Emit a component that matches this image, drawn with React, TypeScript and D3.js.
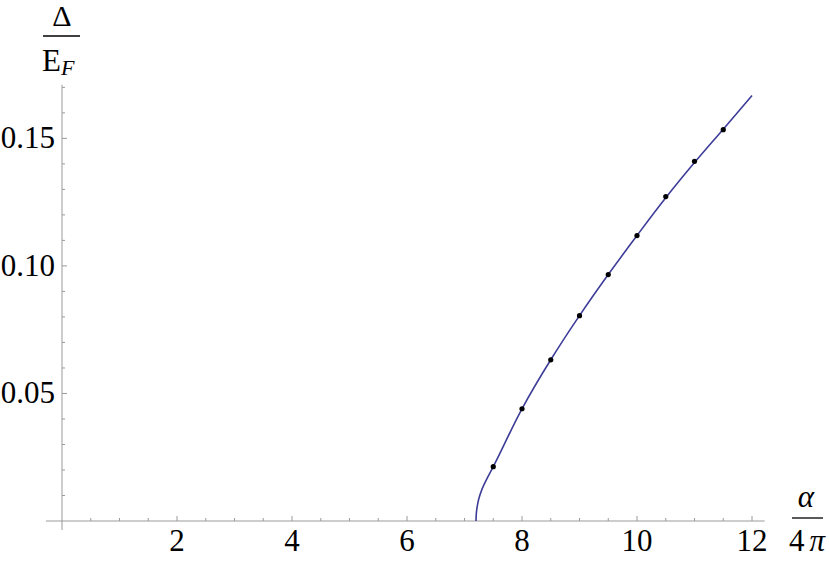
import React from "react";
import * as d3 from "d3";

// Fitted curve samples (alpha/4pi, Delta/E_F)
const curveX = [7.2, 7.205, 7.22, 7.25, 7.3, 7.4, 7.5, 8, 8.5, 9, 9.5, 10, 10.5, 11, 11.5, 12];
const curveY = [0, 0.0028, 0.0055, 0.0088, 0.0122, 0.0170, 0.0213, 0.044, 0.0632, 0.0805, 0.0966, 0.1119, 0.1267, 0.1405, 0.1536, 0.1668];

// Numerical data points
const pointX = [7.5, 8, 8.5, 9, 9.5, 10, 10.5, 11, 11.5];
const pointY = [0.0213, 0.044, 0.0632, 0.0805, 0.0966, 0.1119, 0.1272, 0.141, 0.1534];

// Ticks
const xMajorTicks = [2, 4, 6, 8, 10, 12];
const xMinorTicks = [0.5, 1, 1.5, 2.5, 3, 3.5, 4.5, 5, 5.5, 6.5, 7, 7.5, 8.5, 9, 9.5, 10.5, 11, 11.5];
const yMajorTicks = [0.05, 0.1, 0.15];
const yMinorTicks = [0.01, 0.02, 0.03, 0.04, 0.06, 0.07, 0.08, 0.09, 0.11, 0.12, 0.13, 0.14, 0.16, 0.17];
const xTickLabels = ["2", "4", "6", "8", "10", "12"];
const yTickLabels = ["0.05", "0.10", "0.15"];
const xExtent = [-0.28, 12.22];
const yExtent = [-0.0035, 0.171];

const W = 830;
const H = 561;
const FONT = "'Liberation Serif', 'DejaVu Serif', serif";
const AXIS = "#9a9a9a";
const CURVE = "#3d3d99";

export default function App() {
  const x = d3.scaleLinear().domain([0, 12]).range([62, 752]);
  const y = d3.scaleLinear().domain([0, 0.171]).range([521, 84.8]);

  const line = d3
    .line<number>()
    .x((_, i) => x(curveX[i]))
    .y((d) => y(d))
    .curve(d3.curveMonotoneY);

  const x0 = x(0);
  const y0 = y(0);
  const txt = { fontFamily: FONT };
  const FS = 31;

  return (
    <svg
      width={W}
      height={H}
      style={{ position: "absolute", left: 0, top: 0, background: "#fff", fontFamily: FONT }}
    >
      {/* axes */}
      <line x1={x(xExtent[0])} x2={x(xExtent[1])} y1={y0} y2={y0} stroke={AXIS} strokeWidth={1} />
      <line x1={x0} x2={x0} y1={y(yExtent[0])} y2={y(yExtent[1])} stroke={AXIS} strokeWidth={1} />

      {/* x ticks */}
      {xMajorTicks.map((t) => (
        <line key={"xM" + t} x1={x(t)} x2={x(t)} y1={y0} y2={y0 - 5} stroke={AXIS} strokeWidth={1} />
      ))}
      {xMinorTicks.map((t) => (
        <line key={"xm" + t} x1={x(t)} x2={x(t)} y1={y0} y2={y0 - 3} stroke={AXIS} strokeWidth={1} />
      ))}
      {/* y ticks */}
      {yMajorTicks.map((t) => (
        <line key={"yM" + t} x1={x0} x2={x0 + 5} y1={y(t)} y2={y(t)} stroke={AXIS} strokeWidth={1} />
      ))}
      {yMinorTicks.map((t) => (
        <line key={"ym" + t} x1={x0} x2={x0 + 3} y1={y(t)} y2={y(t)} stroke={AXIS} strokeWidth={1} />
      ))}

      {/* tick labels */}
      {xMajorTicks.map((t, i) => (
        <text key={"xl" + t} style={txt} x={x(t)} y={y0 + 30} fontSize={FS} textAnchor="middle" fill="#000">
          {xTickLabels[i]}
        </text>
      ))}
      {yMajorTicks.map((t, i) => (
        <text key={"yl" + t} style={txt} x={x0 - 7} y={y(t) + 10} fontSize={FS} textAnchor="end" fill="#000">
          {yTickLabels[i]}
        </text>
      ))}

      {/* curve */}
      <path d={line(curveY) || ""} fill="none" stroke={CURVE} strokeWidth={1.6} />

      {/* points */}
      {pointX.map((px, i) => (
        <circle key={"p" + i} cx={x(px)} cy={y(pointY[i])} r={2.6} fill="#000" />
      ))}

      {/* y axis label: Delta / E_F */}
      <text style={txt} x={62} y={26} fontSize={30} textAnchor="middle" fill="#000">Δ</text>
      <line x1={43} x2={80} y1={36} y2={36} stroke="#000" strokeWidth={1.3} />
      <text style={txt} x={42} y={71} fontSize={31} fill="#000">
        E
        <tspan fontSize={22} fontStyle="italic" dy={4}>F</tspan>
      </text>

      {/* x axis label: alpha / 4 pi */}
      <text style={txt} x={806} y={507} fontSize={31} fontStyle="italic" textAnchor="middle" fill="#000">α</text>
      <line x1={792} x2={823} y1={518} y2={518} stroke="#000" strokeWidth={1.3} />
      <text style={txt} x={807} y={551} fontSize={31} textAnchor="middle" fill="#000">
        4<tspan fontStyle="italic" dx={5}>π</tspan>
      </text>
    </svg>
  );
}
